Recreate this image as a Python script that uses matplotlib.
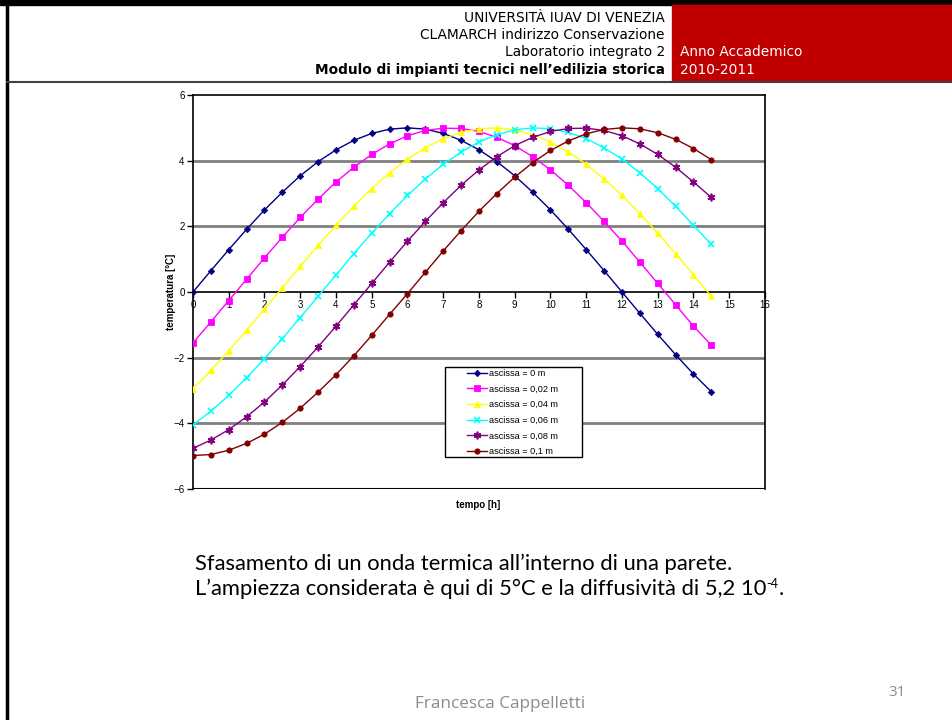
import matplotlib
matplotlib.use("Agg")
import matplotlib.pyplot as plt
from matplotlib.patches import Rectangle
from matplotlib.lines import Line2D

# time [h]
tempo = [i * 0.5 for i in range(30)]

# temperature [°C] for each abscissa
t_0 = [0, 0.65, 1.29, 1.91, 2.5, 3.04, 3.54, 3.97, 4.33, 4.62, 4.83, 4.96, 5.0, 4.96, 4.83,
       4.62, 4.33, 3.97, 3.54, 3.04, 2.5, 1.91, 1.29, 0.65, 0, -0.65, -1.29, -1.91, -2.5, -3.04]
t_002 = [-1.55, -0.91, -0.26, 0.39, 1.04, 1.67, 2.27, 2.83, 3.35, 3.80, 4.19, 4.51, 4.76, 4.92, 4.99,
         4.98, 4.89, 4.71, 4.46, 4.12, 3.72, 3.25, 2.72, 2.15, 1.55, 0.91, 0.26, -0.39, -1.04, -1.62]
t_004 = [-2.94, -2.39, -1.79, -1.17, -0.52, 0.13, 0.78, 1.42, 2.03, 2.61, 3.15, 3.63, 4.05, 4.39, 4.67,
         4.86, 4.97, 5.0, 4.94, 4.79, 4.57, 4.26, 3.89, 3.44, 2.94, 2.39, 1.79, 1.17, 0.52, -0.13]
t_006 = [-4.05, -3.63, -3.15, -2.61, -2.03, -1.42, -0.78, -0.13, 0.52, 1.17, 1.79, 2.39, 2.94, 3.44, 3.89,
         4.26, 4.57, 4.79, 4.94, 5.0, 4.97, 4.86, 4.67, 4.39, 4.05, 3.63, 3.15, 2.61, 2.03, 1.45]
t_008 = [-4.76, -4.51, -4.19, -3.80, -3.35, -2.83, -2.27, -1.67, -1.04, -0.39, 0.26, 0.91, 1.55, 2.15, 2.72,
         3.25, 3.72, 4.12, 4.46, 4.71, 4.89, 4.98, 4.99, 4.92, 4.76, 4.51, 4.19, 3.80, 3.35, 2.88]
t_01 = [-4.98, -4.95, -4.82, -4.61, -4.33, -3.97, -3.54, -3.05, -2.52, -1.94, -1.32, -0.68, -0.05, 0.60, 1.25,
        1.87, 2.46, 3.00, 3.50, 3.94, 4.31, 4.60, 4.82, 4.95, 5.0, 4.97, 4.85, 4.65, 4.37, 4.03]

labels = ["ascissa = 0 m", "ascissa = 0,02 m", "ascissa = 0,04 m",
          "ascissa = 0,06 m", "ascissa = 0,08 m", "ascissa = 0,1 m"]
series = [t_0, t_002, t_004, t_006, t_008, t_01]
colors = ["#000080", "#FF00FF", "#FFFF00", "#00FFFF", "#800080", "#800000"]
markers = ["D", "s", "^", "x", (6, 2, 0), "o"]
msizes = [3.2, 4.2, 4.6, 4.6, 5.5, 3.8]

W, H = 953, 720
def fx(x): return x / W
def fy(y): return 1 - y / H

fig = plt.figure(figsize=(9.53, 7.2), dpi=100)

# slide header
fig.add_artist(Rectangle((0, fy(5)), 1, fy(0) - fy(5), color="black"))
fig.add_artist(Rectangle((fx(672), fy(81)), 1 - fx(672), fy(5) - fy(81), color="#C00000"))
fig.add_artist(Line2D([fx(7), fx(7)], [0, 1], color="black", lw=2.5))
fig.add_artist(Line2D([fx(7), 1], [fy(82), fy(82)], color="#404040", lw=1.5))

hdr = ["UNIVERSITÀ IUAV DI VENEZIA", "CLAMARCH indirizzo Conservazione", "Laboratorio integrato 2"]
for i, s in enumerate(hdr):
    fig.text(fx(665), fy(18 + 17 * i), s, ha="right", va="center", fontsize=9.9, family="DejaVu Sans", color="black")
fig.text(fx(665), fy(70), "Modulo di impianti tecnici nell’edilizia storica", ha="right", va="center",
         fontsize=9.8, family="DejaVu Sans", weight="bold")
fig.text(fx(680), fy(52), "Anno Accademico", ha="left", va="center", fontsize=9.9, family="DejaVu Sans", color="white")
fig.text(fx(680), fy(70), "2010-2011", ha="left", va="center", fontsize=9.9, family="DejaVu Sans", color="white")

# chart
ax = fig.add_axes([fx(193), fy(489), fx(765) - fx(193), fy(95) - fy(489)])
for ys, lab, c, m, ms in zip(series, labels, colors, markers, msizes):
    mew = 1.2 if (m == "x" or isinstance(m, tuple)) else 0.6
    ax.plot(tempo, ys, color=c, lw=1, marker=m, markersize=ms, markeredgewidth=mew, label=lab, zorder=3)

ax.set_xlim(0, 16)
ax.set_ylim(-6, 6)
ax.set_xticks(range(0, 17))
ax.set_yticks(range(-6, 7, 2))
ax.spines["bottom"].set_position(("data", 0))
for sp in ax.spines.values():
    sp.set_color("black")
    sp.set_linewidth(1.2)
ax.axhline(-6, color="black", lw=1.5, zorder=2)
for yv in (-4, -2, 2, 4):
    ax.axhline(yv, color="#808080", lw=2, zorder=1)
ax.tick_params(axis="both", labelsize=7, length=4, width=1, direction="out", pad=2)
for lab in ax.get_xticklabels() + ax.get_yticklabels():
    lab.set_family("Liberation Sans")

fig.text(fx(171), fy(292), "temperatura [°C]", rotation=90, ha="center", va="center", fontsize=7,
         weight="bold", family="Liberation Sans")
fig.text(fx(478), fy(505), "tempo [h]", ha="center", va="center", fontsize=7,
         weight="bold", family="Liberation Sans")

# legend with Excel-like frame
ax.add_patch(Rectangle((fx(445), fy(457)), fx(582) - fx(445), fy(367) - fy(457), transform=fig.transFigure,
                       facecolor="white", edgecolor="black", lw=1, zorder=4))
leg = ax.legend(loc="upper left", bbox_to_anchor=(fx(467), fy(369)), bbox_transform=fig.transFigure,
                prop={"family": "Liberation Sans", "size": 6.6}, frameon=False, borderpad=0, borderaxespad=0,
                handlelength=2.2, handletextpad=0.2, labelspacing=0.72)
leg.set_zorder(5)

# caption
txt_kw = dict(fontsize=15.8, family="Lato", color="black", va="baseline", ha="left")
fig.text(fx(195), fy(570), "Sfasamento di un onda termica all’interno di una parete.", **txt_kw)
t2 = fig.text(fx(195), fy(595), "L’ampiezza considerata è qui di 5°C e la diffusività di 5,2 10", **txt_kw)
r = fig.canvas.get_renderer()
bb = t2.get_window_extent(renderer=r)
x_end = bb.x1 / W
sup = fig.text(x_end, fy(595) + 7 / H, "-4", fontsize=9, family="Lato", va="baseline", ha="left")
bb3 = sup.get_window_extent(renderer=r)
fig.text(bb3.x1 / W, fy(595), ".", **txt_kw)

# footer
fig.text(fx(500), fy(704), "Francesca Cappelletti", ha="center", va="center", fontsize=12.3,
         family="Open Sans", color="#8C8C8C")
fig.text(fx(897), fy(693), "31", ha="center", va="center", fontsize=11, family="Open Sans", color="#8C8C8C")

fig.savefig("out.png", dpi=100)
